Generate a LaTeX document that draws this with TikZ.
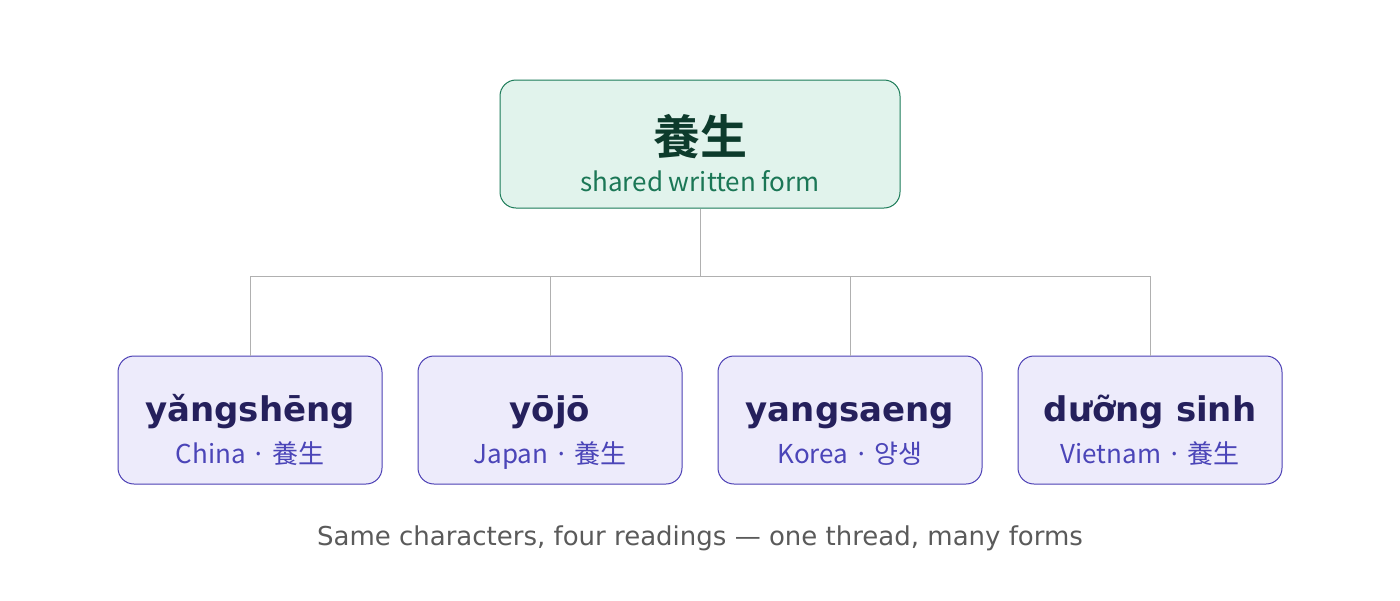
\documentclass[tikz,border=0pt]{standalone}
\usepackage{fontspec}
\setmainfont{DejaVu Sans}
\newfontfamily\cjk{Noto Sans CJK JP}
\newfontfamily\cjkb{Noto Sans CJK JP Bold}
\definecolor{topfill}{HTML}{E1F3EC}
\definecolor{topdraw}{HTML}{1A7A57}
\definecolor{toptext}{HTML}{0D3B2C}
\definecolor{topsub}{HTML}{1B7756}
\definecolor{botfill}{HTML}{EDEBFB}
\definecolor{botdraw}{HTML}{4B3FB4}
\definecolor{bottext}{HTML}{25205C}
\definecolor{botsub}{HTML}{4B45B8}
\definecolor{linecol}{HTML}{B0B0B0}
\definecolor{capcol}{HTML}{5A5A5A}
\begin{document}
\begin{tikzpicture}[x=1pt,y=-1pt,
  topbox/.style={draw=topdraw,fill=topfill,rounded corners=16pt,line width=1pt,minimum width=400pt,minimum height=128pt,inner sep=0pt},
  readbox/.style={draw=botdraw,fill=botfill,rounded corners=16pt,line width=1pt,minimum width=264pt,minimum height=128pt,inner sep=0pt},
  reading/.style={font=\fontsize{34}{40}\selectfont\bfseries,text=bottext,inner sep=0pt,anchor=base},
  subl/.style={font=\cjk\fontsize{26}{30}\selectfont,text=botsub,inner sep=0pt,anchor=base},
  conn/.style={draw=linecol,line width=1pt}]
\useasboundingbox (0,0) rectangle (1400,600);
\node[topbox] (top) at (700,144) {};
\node[inner sep=0pt,anchor=base,font=\cjkb\fontsize{47}{52}\selectfont,text=toptext] (toptitle) at (700,154) {養生};
\node[inner sep=0pt,anchor=base,font=\cjk\fontsize{26}{30}\selectfont,text=topsub] (topsub) at (700,191) {shared written form};
\coordinate (hub) at (700,276);
\foreach \n/\x/\r/\s in {c/250/{yǎngshēng}/{China · 養生},j/550/{yōjō}/{Japan · 養生},k/850/{yangsaeng}/{Korea · 양생},v/1150/{dưỡng sinh}/{Vietnam · 養生}}{
  \node[readbox] (\n) at (\x,420) {};
  \node[reading] (\n r) at (\x,421) {\r};
  \node[subl] (\n s) at (\x,463) {\s};
  \coordinate (\n t) at (\x,276);
}
\draw[conn] (top.south) -- (hub);
\draw[conn] (ct) -- (vt);
\draw[conn] (ct) -- (c.north);
\draw[conn] (jt) -- (j.north);
\draw[conn] (kt) -- (k.north);
\draw[conn] (vt) -- (v.north);
\node[inner sep=0pt,anchor=base,font=\fontsize{26}{30}\selectfont,text=capcol] (cap) at (700,545) {Same characters, four readings — one thread, many forms};
\end{tikzpicture}
\end{document}
